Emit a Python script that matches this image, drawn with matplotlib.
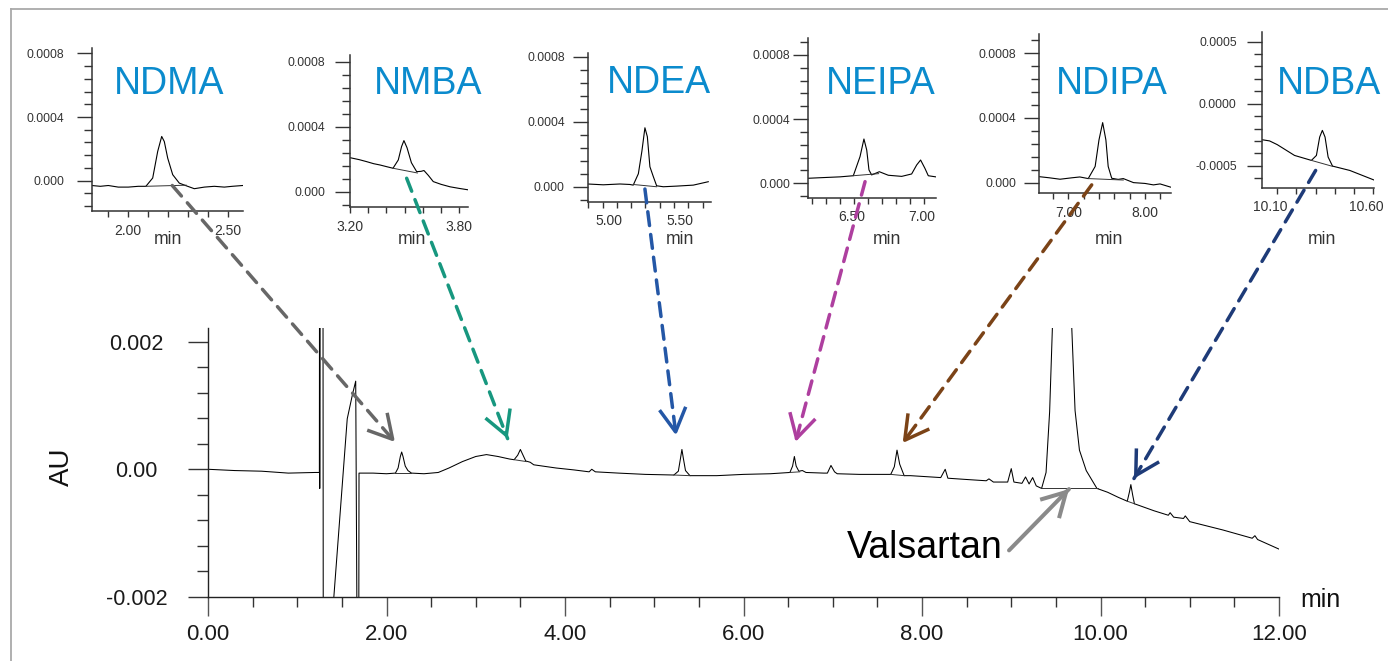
import numpy as np
import matplotlib
matplotlib.use('Agg')
import matplotlib.pyplot as plt
from matplotlib.patches import ConnectionPatch
from matplotlib.lines import Line2D
from matplotlib.ticker import MultipleLocator
from matplotlib.transforms import ScaledTranslation


plt.rcParams['font.family'] = ['Liberation Sans', 'DejaVu Sans']

W, H = 1388, 661


# [ Main chromatogram ] time (min) / absorbance (AU)
MAIN_T = [0.00, 0.30, 0.60, 0.90, 1.20, 1.248, 1.250, 1.252, 1.256, 1.288, 1.292, 1.390,
	1.410, 1.560, 1.620, 1.655, 1.675, 1.688, 1.692, 1.850, 2.000,
	2.100, 2.130, 2.155, 2.170, 2.185, 2.210, 2.240, 2.280, 2.420, 2.580,
	2.700, 2.850, 3.000, 3.120, 3.250, 3.380, 3.430, 3.470, 3.500, 3.530, 3.560,
	3.610, 3.650, 3.750, 3.900, 4.100, 4.270, 4.300, 4.340, 4.600, 4.900,
	5.220, 5.270, 5.295, 5.310, 5.325, 5.350, 5.400, 5.700, 6.000, 6.300,
	6.520, 6.550, 6.570, 6.590, 6.620, 6.660, 6.700, 6.900, 6.940, 6.980, 7.020,
	7.050, 7.300, 7.650, 7.690, 7.720, 7.750, 7.800, 7.870, 8.210, 8.260, 8.290,
	8.500, 8.720, 8.750, 8.800, 8.960, 9.000, 9.030, 9.120, 9.160, 9.200, 9.240,
	9.280, 9.340, 9.390, 9.430, 9.550, 9.670, 9.715, 9.764, 9.840, 9.960,
	10.080, 10.200, 10.300, 10.325, 10.340, 10.360, 10.380, 10.600, 10.760,
	10.780, 10.820, 10.930, 10.950, 11.000, 11.370, 11.700, 11.730, 11.760, 12.000]
MAIN_AU = [0.00000, -0.00002, -0.00003, -0.00006, -0.00005, -0.00005, 0.00400, -0.00030, 0.00400, 0.00400, -0.00400, -0.00400,
	-0.00200, 0.00079, 0.00118, 0.00138, -0.00400, -0.00400, -0.00006, -0.00006, -0.00007,
	-0.00006, 0.00002, 0.00020, 0.00027, 0.00020, 0.00005, -0.00002, -0.00006, -0.00007, -0.00005,
	0.00002, 0.00012, 0.00020, 0.00023, 0.00020, 0.00016, 0.00015, 0.00022, 0.00031, 0.00022, 0.00013,
	0.00011, 0.00007, 0.00005, 0.00002, -0.00001, -0.00004, 0.00000, -0.00004, -0.00006, -0.00008,
	-0.00009, -0.00003, 0.00018, 0.00031, 0.00018, -0.00002, -0.00010, -0.00010, -0.00008, -0.00007,
	-0.00005, 0.00005, 0.00020, 0.00005, -0.00003, -0.00002, -0.00005, -0.00006, -0.00006, 0.00006, -0.00004,
	-0.00007, -0.00008, -0.00008, 0.00004, 0.00030, 0.00008, -0.00010, -0.00010, -0.00013, 0.00000, -0.00014,
	-0.00016, -0.00018, -0.00015, -0.00020, -0.00020, 0.00001, -0.00020, -0.00022, -0.00012, -0.00023, -0.00013,
	-0.00026, -0.00030, -0.00005, 0.00090, 0.00600, 0.00250, 0.00092, 0.00030, -0.00002, -0.00030,
	-0.00036, -0.00044, -0.00050, -0.00035, -0.00024, -0.00040, -0.00054, -0.00065, -0.00072,
	-0.00068, -0.00075, -0.00077, -0.00073, -0.00082, -0.00095, -0.00108, -0.00104, -0.00110, -0.00125]

# integration baselines drawn under the peaks
BASE_T0 = [2.10, 3.43, 5.22, 6.52, 7.65, 9.33, 10.30]
BASE_AU0 = [-0.00006, 0.00015, -0.00009, -0.00005, -0.00008, -0.00030, -0.00050]
BASE_T1 = [2.28, 3.57, 5.40, 6.63, 7.80, 9.97, 10.38]
BASE_AU1 = [-0.00006, 0.00012, -0.00010, -0.00004, -0.00010, -0.00030, -0.00054]

MAIN_XTICKS = [0.0, 2.0, 4.0, 6.0, 8.0, 10.0, 12.0]
MAIN_XLABELS = ['0.00', '2.00', '4.00', '6.00', '8.00', '10.00', '12.00']
MAIN_YTICKS = [-0.002, 0.0, 0.002]
MAIN_YLABELS = ['-0.002', '0.00', '0.002']


# [ Insets ] zoomed traces of each nitrosamine
NAMES = ['NDMA', 'NMBA', 'NDEA', 'NEIPA', 'NDIPA', 'NDBA']

NDMA_T = [1.817, 1.86, 1.90, 1.95, 2.00, 2.05, 2.088, 2.122, 2.147, 2.167, 2.18, 2.197, 2.222,
	2.255, 2.288, 2.33, 2.38, 2.43, 2.48, 2.52, 2.572]
NDMA_AU = [-0.000030, -0.000035, -0.000030, -0.000040, -0.000040, -0.000035, -0.000035, 0.000017,
	0.000184, 0.000278, 0.000246, 0.000142, 0.000038, -0.000015, -0.000031, -0.000050, -0.000040,
	-0.000035, -0.000040, -0.000035, -0.000030]
NDMA_BASE = [2.088, -0.000035, 2.29, -0.000028]

NMBA_T = [3.20, 3.25, 3.29, 3.33, 3.365, 3.40, 3.436, 3.465, 3.483, 3.496, 3.513, 3.537, 3.566,
	3.59, 3.606, 3.63, 3.657, 3.70, 3.749, 3.80, 3.845]
NMBA_AU = [0.000209, 0.000197, 0.000185, 0.000172, 0.000164, 0.000154, 0.000144, 0.000195, 0.000277,
	0.000314, 0.000270, 0.000178, 0.000123, 0.000125, 0.000130, 0.000100, 0.000062, 0.000045,
	0.000030, 0.000020, 0.000012]
NMBA_BASE = [3.436, 0.000144, 3.57, 0.000115]

NDEA_T = [4.895, 5.004, 5.121, 5.191, 5.214, 5.25, 5.275, 5.296, 5.313, 5.331, 5.355, 5.378,
	5.425, 5.519, 5.635, 5.740]
NDEA_AU = [0.000017, 0.000012, 0.000017, 0.000014, 0.000010, 0.000080, 0.000220, 0.000363, 0.000308,
	0.000123, 0.000062, 0.000006, 0.000000, 0.000004, 0.000010, 0.000031]
NDEA_BASE = [5.214, 0.000014, 5.378, 0.0]

NEIPA_T = [6.169, 6.269, 6.40, 6.495, 6.543, 6.571, 6.591, 6.607, 6.626, 6.681, 6.745, 6.841,
	6.912, 6.948, 6.976, 7.007, 7.031, 7.084]
NEIPA_AU = [0.000031, 0.000035, 0.000040, 0.000047, 0.000166, 0.000276, 0.000207, 0.000083, 0.000052,
	0.000072, 0.000050, 0.000043, 0.000058, 0.000114, 0.000145, 0.000093, 0.000047, 0.000040]
NEIPA_BASE = [6.495, 0.000047, 6.676, 0.000060]

NDIPA_T = [6.618, 6.75, 6.892, 7.05, 7.15, 7.26, 7.35, 7.40, 7.448, 7.49, 7.52, 7.566, 7.65,
	7.717, 7.85, 8.00, 8.11, 8.196, 8.335]
NDIPA_AU = [0.000037, 0.000030, 0.000021, 0.000030, 0.000035, 0.000025, 0.000100, 0.000264, 0.000371,
	0.000264, 0.000100, 0.000027, 0.000020, 0.000025, 0.000000, -0.000005, -0.000014, -0.000008, -0.000028]
NDIPA_BASE = [7.26, 0.000025, 7.717, 0.000016]

NDBA_T = [10.019, 10.06, 10.10, 10.19, 10.278, 10.304, 10.321, 10.335, 10.349, 10.365, 10.388,
	10.478, 10.604]
NDBA_AU = [-0.000290, -0.000300, -0.000330, -0.000417, -0.000457, -0.000417, -0.000269, -0.000215,
	-0.000269, -0.000430, -0.000503, -0.000538, -0.000615]
NDBA_BASE = [10.278, -0.000457, 10.388, -0.000505]

INSET_XMAJOR = {
	'NDMA': [2.00, 2.50], 'NMBA': [3.20, 3.80], 'NDEA': [5.00, 5.50],
	'NEIPA': [6.50, 7.00], 'NDIPA': [7.00, 8.00], 'NDBA': [10.10, 10.60],
}
INSET_YMAJOR = {
	'NDMA': [0.0, 0.0004, 0.0008], 'NMBA': [0.0, 0.0004, 0.0008], 'NDEA': [0.0, 0.0004, 0.0008],
	'NEIPA': [0.0, 0.0004, 0.0008], 'NDIPA': [0.0, 0.0004, 0.0008], 'NDBA': [-0.0005, 0.0, 0.0005],
}
INSET_YLABELS = {
	'NDMA': ['0.000', '0.0004', '0.0008'], 'NMBA': ['0.000', '0.0004', '0.0008'],
	'NDEA': ['0.000', '0.0004', '0.0008'], 'NEIPA': ['0.000', '0.0004', '0.0008'],
	'NDIPA': ['0.000', '0.0004', '0.0008'], 'NDBA': ['-0.0005', '0.0000', '0.0005'],
}

# where each dashed arrow leaves the inset and lands in the main trace
ARROW_FROM = {
	'NDMA': (2.22, -0.00003), 'NMBA': (3.511, 0.0000825), 'NDEA': (5.296, -0.000014),
	'NEIPA': (6.579, 0.00001), 'NDIPA': (7.305, -0.000014), 'NDBA': (10.30, -0.000538),
}
ARROW_TO = {
	'NDMA': (2.095, 0.000427), 'NMBA': (3.357, 0.00048), 'NDEA': (5.244, 0.00053),
	'NEIPA': (6.584, 0.00043), 'NDIPA': (7.783, 0.00041), 'NDBA': (10.375, -0.000145),
}


########################################################################
#							LAYOUT
########################################################################

# pixel boxes (left, top, right, bottom) of each inset, plus limits
# xshift: horizontal nudge (px) of the x tick labels, as in the picture
INSET_LAYOUT = {
	'NDMA':  dict(box=(91.7, 47.7, 242.7, 211.0), xlim=(1.817, 2.572), ylim=(-0.00019, 0.000835),
		xminor=0.1, yminor=0.00008, ypad=9.1, title=(169, 84), mn=(168, 240), xshift=0),
	'NMBA':  dict(box=(350.0, 55.0, 467.7, 207.3), xlim=(3.20, 3.846), ylim=(-0.000096, 0.00084),
		xminor=0.1, yminor=0.00008, ypad=7.2, title=(428, 84), mn=(412, 239), xshift=0),
	'NDEA':  dict(box=(587.7, 52.7, 710.7, 201.7), xlim=(4.895, 5.757), ylim=(-0.000092, 0.000825),
		xminor=0.1, yminor=0.00008, ypad=5.8, title=(659, 83), mn=(680, 239), xshift=6),
	'NEIPA': dict(box=(807.7, 38.3, 935.7, 197.7), xlim=(6.169, 7.084), ylim=(-0.00009, 0.000904),
		xminor=0.1, yminor=0.00008, ypad=1.5, title=(881, 84), mn=(887, 239), xshift=-2),
	'NDIPA': dict(box=(1039.0, 34.3, 1170.7, 193.3), xlim=(6.618, 8.335), ylim=(-0.000066, 0.000917),
		xminor=0.2, yminor=0.00008, ypad=5.8, title=(1112, 84), mn=(1109, 239), xshift=0),
	'NDBA':  dict(box=(1261.7, 31.7, 1374.0, 187.7), xlim=(10.019, 10.604), ylim=(-0.000677, 0.00058),
		xminor=0.1, yminor=0.0001, ypad=7.2, title=(1329, 84), mn=(1322, 239), xshift=-7),
}

ARROW_COLORS = {
	'NDMA': '#676767', 'NMBA': '#17977f', 'NDEA': '#2457a6',
	'NEIPA': '#ae3f9f', 'NDIPA': '#7b4317', 'NDBA': '#1e3b78',
}
TITLE_COLOR = '#0b8bcd'


def box_to_rect(box):
	l, t, r, b = box
	return [l / W, 1 - b / H, (r - l) / W, (b - t) / H]


def fx(x):
	return x / W


def fy(y):
	return 1 - y / H


def draw_arrow(fig, ax_from, p_from, ax_to, p_to, color, dashed=True, lw=2.5):
	style = (0, (4, 2.6)) if dashed else '-'
	shaft = ConnectionPatch(xyA=p_from, coordsA=ax_from.transData, xyB=p_to, coordsB=ax_to.transData,
		arrowstyle='-', color=color, lw=lw, linestyle=style, shrinkA=0, shrinkB=0, zorder=5)
	fig.add_artist(shaft)
	# solid open head on top of the dashed shaft
	a = ax_from.transData.transform(p_from)
	b = ax_to.transData.transform(p_to)
	d = (b - a) / np.hypot(*(b - a))
	back = fig.transFigure.inverted().transform(b - d * 8)
	head = ConnectionPatch(xyA=back, coordsA='figure fraction', xyB=p_to, coordsB=ax_to.transData,
		arrowstyle='->,head_length=1.7,head_width=0.95', mutation_scale=10,
		color=color, lw=lw, shrinkA=0, shrinkB=0, zorder=6, capstyle='butt')
	fig.add_artist(head)


def main():
	fig = plt.figure(figsize=(W / 100, H / 100), dpi=100)

	# [ Frame ]
	fig.add_artist(Line2D([fx(10.7), fx(10.7)], [0, fy(9.3)], color='#a9a9a9', lw=1.3))
	fig.add_artist(Line2D([fx(10.7), 1], [fy(9.3), fy(9.3)], color='#a9a9a9', lw=1.3))

	# [ Main chromatogram ]
	ax = fig.add_axes(box_to_rect((208, 327.5, 1279, 597)))
	ax.set_facecolor('none')
	ax.plot(MAIN_T, MAIN_AU, color='black', lw=0.75)
	for t0, a0, t1, a1 in zip(BASE_T0, BASE_AU0, BASE_T1, BASE_AU1):
		ax.plot([t0, t1], [a0, a1], color='#333333', lw=0.7)
	ax.set_xlim(0, 12)
	ax.set_ylim(-0.002, 0.00222)
	for s in ['top', 'right']:
		ax.spines[s].set_visible(False)
	for s in ['left', 'bottom']:
		ax.spines[s].set_color('#222222')
		ax.spines[s].set_linewidth(1.0)
	ax.set_xticks(MAIN_XTICKS, labels=MAIN_XLABELS)
	ax.set_yticks(MAIN_YTICKS, labels=MAIN_YLABELS)
	ax.xaxis.set_minor_locator(MultipleLocator(0.5))
	ax.yaxis.set_minor_locator(MultipleLocator(0.0004))
	ax.tick_params(axis='x', which='major', length=13.7, width=1.0, color='#555555', pad=6,
		labelsize=16, labelcolor='#1a1a1a')
	ax.tick_params(axis='x', which='minor', length=7.2, width=1.0, color='#333333')
	ax.tick_params(axis='y', which='major', length=14.4, width=1.0, color='#333333', pad=37,
		labelsize=15.5, labelcolor='#1a1a1a')
	ax.tick_params(axis='y', which='minor', length=8, width=1.0, color='#333333')
	for lbl in ax.get_yticklabels():
		lbl.set_horizontalalignment('center')

	fig.text(fx(62), fy(467), 'AU', rotation=90, ha='center', va='center', fontsize=20, color='#111111')
	fig.text(fx(1320), fy(600), 'min', ha='center', va='center', fontsize=18, color='#111111')
	ax.text(8.90, -0.00123, 'Valsartan', ha='right', va='center', fontsize=27, color='black')

	# [ Insets ]
	traces = {
		'NDMA': (NDMA_T, NDMA_AU, NDMA_BASE), 'NMBA': (NMBA_T, NMBA_AU, NMBA_BASE),
		'NDEA': (NDEA_T, NDEA_AU, NDEA_BASE), 'NEIPA': (NEIPA_T, NEIPA_AU, NEIPA_BASE),
		'NDIPA': (NDIPA_T, NDIPA_AU, NDIPA_BASE), 'NDBA': (NDBA_T, NDBA_AU, NDBA_BASE),
	}
	insets = {}
	for name in NAMES:
		lay = INSET_LAYOUT[name]
		t, au, base = traces[name]
		iax = fig.add_axes(box_to_rect(lay['box']))
		iax.set_facecolor('none')
		iax.plot(t, au, color='black', lw=0.8)
		iax.plot([base[0], base[2]], [base[1], base[3]], color='#333333', lw=0.7)
		iax.set_xlim(*lay['xlim'])
		iax.set_ylim(*lay['ylim'])
		for s in ['top', 'right']:
			iax.spines[s].set_visible(False)
		for s in ['left', 'bottom']:
			iax.spines[s].set_color('#333333')
			iax.spines[s].set_linewidth(1.1)
		iax.set_xticks(INSET_XMAJOR[name], labels=['%.2f' % v for v in INSET_XMAJOR[name]])
		iax.set_yticks(INSET_YMAJOR[name], labels=INSET_YLABELS[name])
		iax.xaxis.set_minor_locator(MultipleLocator(lay['xminor']))
		iax.yaxis.set_minor_locator(MultipleLocator(lay['yminor']))
		iax.tick_params(axis='x', which='both', length=4.2, width=1.0, color='#333333', pad=5.0,
			labelsize=10, labelcolor='#333333')
		iax.tick_params(axis='y', which='major', length=10.8, width=1.0, color='#333333',
			pad=lay['ypad'], labelsize=8.7, labelcolor='#333333')
		iax.tick_params(axis='y', which='minor', length=5.5, width=1.0, color='#333333')
		if lay['xshift']:
			shift = ScaledTranslation(lay['xshift'] / 100, 0, fig.dpi_scale_trans)
			for tick in iax.xaxis.get_major_ticks():
				tick.label1.set_transform(tick.label1.get_transform() + shift)
		fig.text(fx(lay['title'][0]), fy(lay['title'][1]), name, ha='center', va='center',
			fontsize=27, color=TITLE_COLOR)
		fig.text(fx(lay['mn'][0]), fy(lay['mn'][1]), 'min', ha='center', va='center',
			fontsize=12.7, color='#333333')
		insets[name] = iax

	# [ Arrows ]
	for name in NAMES:
		draw_arrow(fig, insets[name], ARROW_FROM[name], ax, ARROW_TO[name], ARROW_COLORS[name])
	draw_arrow(fig, ax, (8.975, -0.00127), ax, (9.647, -0.00031), '#8a8a8a', dashed=False, lw=2.9)

	fig.savefig('out.png', dpi=100)


if __name__ == "__main__":
	main()
